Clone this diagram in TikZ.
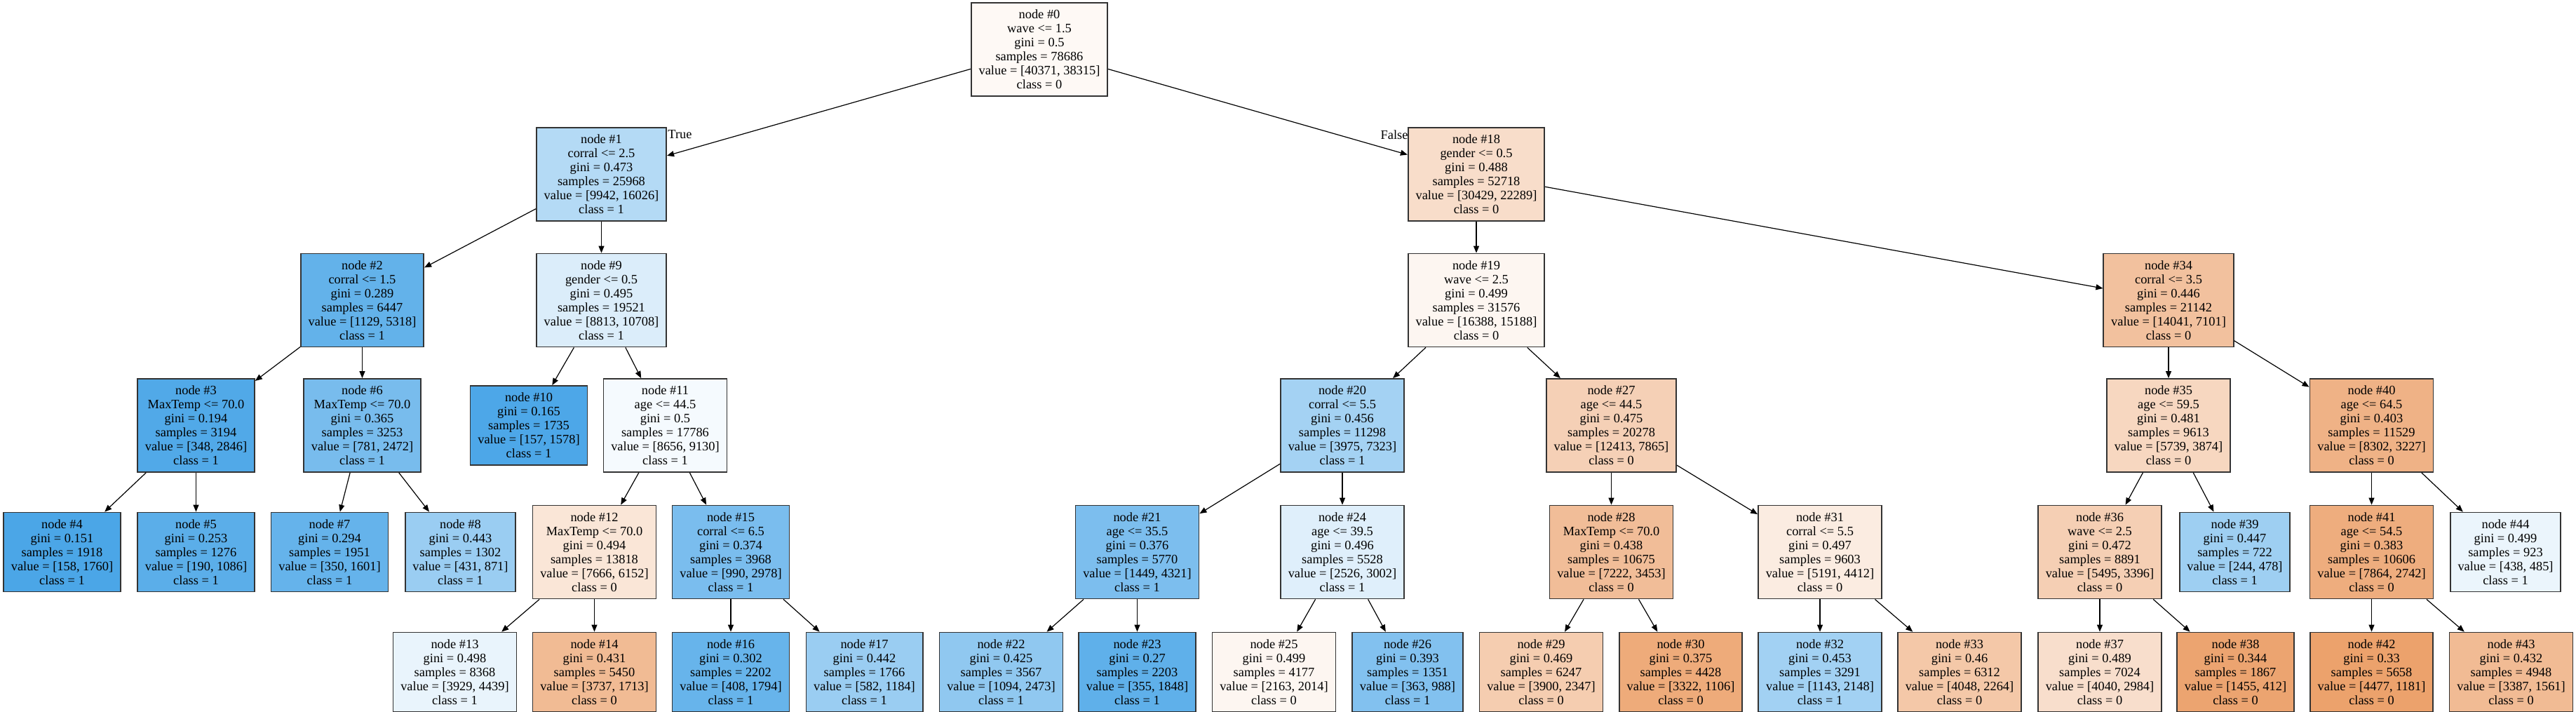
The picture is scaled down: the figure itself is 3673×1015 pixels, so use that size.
\documentclass[tikz,border=0pt]{standalone}
\usepackage{fontspec}
\setmainfont{Liberation Serif}
\usetikzlibrary{arrows.meta}
\definecolor{cls0}{RGB}{229,129,57}
\definecolor{cls1}{RGB}{57,157,229}

\begin{document}
\begin{tikzpicture}[
  x=0.5pt, y=-0.5pt,
  >={Triangle[length=5pt, width=4pt]},
  split/.style={rectangle, draw=black!80, line width=0.9pt, align=center, inner xsep=5.4pt, inner ysep=5pt, font=\fontsize{9.2}{10}\selectfont},
  edgelbl/.style={inner sep=0.5pt, font=\fontsize{9.2}{10}\selectfont},
  branch/.style={->, line width=0.6pt}
]
\useasboundingbox (0,0) rectangle (3673,1015);

% depth 0 and 1
\node[split, fill=cls0!5] (n0) at (1482,70.5) {node \#0\\wave <= 1.5\\gini = 0.5\\samples = 78686\\value = [40371, 38315]\\class = 0};
\node[split, fill=cls1!38] (n1) at (857.5,248.5) {node \#1\\corral <= 2.5\\gini = 0.473\\samples = 25968\\value = [9942, 16026]\\class = 1};
\node[split, fill=cls0!27] (n18) at (2105,248.5) {node \#18\\gender <= 0.5\\gini = 0.488\\samples = 52718\\value = [30429, 22289]\\class = 0};

% depth 2
\node[split, fill=cls1!79] (n2) at (516.5,428) {node \#2\\corral <= 1.5\\gini = 0.289\\samples = 6447\\value = [1129, 5318]\\class = 1};
\node[split, fill=cls1!18] (n9) at (857.5,428) {node \#9\\gender <= 0.5\\gini = 0.495\\samples = 19521\\value = [8813, 10708]\\class = 1};
\node[split, fill=cls0!7] (n19) at (2105,428) {node \#19\\wave <= 2.5\\gini = 0.499\\samples = 31576\\value = [16388, 15188]\\class = 0};
\node[split, fill=cls0!49] (n34) at (3092,428) {node \#34\\corral <= 3.5\\gini = 0.446\\samples = 21142\\value = [14041, 7101]\\class = 0};

% depth 3
\node[split, fill=cls1!88] (n3) at (279.5,606.5) {node \#3\\MaxTemp <= 70.0\\gini = 0.194\\samples = 3194\\value = [348, 2846]\\class = 1};
\node[split, fill=cls1!68] (n6) at (516.5,606.5) {node \#6\\MaxTemp <= 70.0\\gini = 0.365\\samples = 3253\\value = [781, 2472]\\class = 1};
\node[split, fill=cls1!90] (n10) at (754,606.5) {node \#10\\gini = 0.165\\samples = 1735\\value = [157, 1578]\\class = 1};
\node[split, fill=cls1!5] (n11) at (948.5,606.5) {node \#11\\age <= 44.5\\gini = 0.5\\samples = 17786\\value = [8656, 9130]\\class = 1};
\node[split, fill=cls1!46] (n20) at (1914,606.5) {node \#20\\corral <= 5.5\\gini = 0.456\\samples = 11298\\value = [3975, 7323]\\class = 1};
\node[split, fill=cls0!37] (n27) at (2297.5,606.5) {node \#27\\age <= 44.5\\gini = 0.475\\samples = 20278\\value = [12413, 7865]\\class = 0};
\node[split, fill=cls0!32] (n35) at (3092,606.5) {node \#35\\age <= 59.5\\gini = 0.481\\samples = 9613\\value = [5739, 3874]\\class = 0};
\node[split, fill=cls0!61] (n40) at (3381.5,606.5) {node \#40\\age <= 64.5\\gini = 0.403\\samples = 11529\\value = [8302, 3227]\\class = 0};

% depth 4
\node[split, fill=cls1!91] (n4) at (88.5,787) {node \#4\\gini = 0.151\\samples = 1918\\value = [158, 1760]\\class = 1};
\node[split, fill=cls1!83] (n5) at (279.5,787) {node \#5\\gini = 0.253\\samples = 1276\\value = [190, 1086]\\class = 1};
\node[split, fill=cls1!78] (n7) at (470,787) {node \#7\\gini = 0.294\\samples = 1951\\value = [350, 1601]\\class = 1};
\node[split, fill=cls1!51] (n8) at (656.5,787) {node \#8\\gini = 0.443\\samples = 1302\\value = [431, 871]\\class = 1};
\node[split, fill=cls0!20] (n12) at (847.5,787) {node \#12\\MaxTemp <= 70.0\\gini = 0.494\\samples = 13818\\value = [7666, 6152]\\class = 0};
\node[split, fill=cls1!67] (n15) at (1042,787) {node \#15\\corral <= 6.5\\gini = 0.374\\samples = 3968\\value = [990, 2978]\\class = 1};
\node[split, fill=cls1!66] (n21) at (1621.5,787) {node \#21\\age <= 35.5\\gini = 0.376\\samples = 5770\\value = [1449, 4321]\\class = 1};
\node[split, fill=cls1!16] (n24) at (1914,787) {node \#24\\age <= 39.5\\gini = 0.496\\samples = 5528\\value = [2526, 3002]\\class = 1};
\node[split, fill=cls0!52] (n28) at (2297.5,787) {node \#28\\MaxTemp <= 70.0\\gini = 0.438\\samples = 10675\\value = [7222, 3453]\\class = 0};
\node[split, fill=cls0!15] (n31) at (2595,787) {node \#31\\corral <= 5.5\\gini = 0.497\\samples = 9603\\value = [5191, 4412]\\class = 0};
\node[split, fill=cls0!38] (n36) at (2994,787) {node \#36\\wave <= 2.5\\gini = 0.472\\samples = 8891\\value = [5495, 3396]\\class = 0};
\node[split, fill=cls1!49] (n39) at (3186.5,787) {node \#39\\gini = 0.447\\samples = 722\\value = [244, 478]\\class = 1};
\node[split, fill=cls0!65] (n41) at (3381.5,787) {node \#41\\age <= 54.5\\gini = 0.383\\samples = 10606\\value = [7864, 2742]\\class = 0};
\node[split, fill=cls1!10] (n44) at (3572.5,787) {node \#44\\gini = 0.499\\samples = 923\\value = [438, 485]\\class = 1};

% depth 5
\node[split, fill=cls1!11] (n13) at (648.5,958) {node \#13\\gini = 0.498\\samples = 8368\\value = [3929, 4439]\\class = 1};
\node[split, fill=cls0!54] (n14) at (847.5,958) {node \#14\\gini = 0.431\\samples = 5450\\value = [3737, 1713]\\class = 0};
\node[split, fill=cls1!77] (n16) at (1042,958) {node \#16\\gini = 0.302\\samples = 2202\\value = [408, 1794]\\class = 1};
\node[split, fill=cls1!51] (n17) at (1232.5,958) {node \#17\\gini = 0.442\\samples = 1766\\value = [582, 1184]\\class = 1};
\node[split, fill=cls1!56] (n22) at (1427.5,958) {node \#22\\gini = 0.425\\samples = 3567\\value = [1094, 2473]\\class = 1};
\node[split, fill=cls1!81] (n23) at (1621.5,958) {node \#23\\gini = 0.27\\samples = 2203\\value = [355, 1848]\\class = 1};
\node[split, fill=cls0!7] (n25) at (1816.5,958) {node \#25\\gini = 0.499\\samples = 4177\\value = [2163, 2014]\\class = 0};
\node[split, fill=cls1!63] (n26) at (2007,958) {node \#26\\gini = 0.393\\samples = 1351\\value = [363, 988]\\class = 1};
\node[split, fill=cls0!40] (n29) at (2197.5,958) {node \#29\\gini = 0.469\\samples = 6247\\value = [3900, 2347]\\class = 0};
\node[split, fill=cls0!67] (n30) at (2396.5,958) {node \#30\\gini = 0.375\\samples = 4428\\value = [3322, 1106]\\class = 0};
\node[split, fill=cls1!47] (n32) at (2595,958) {node \#32\\gini = 0.453\\samples = 3291\\value = [1143, 2148]\\class = 1};
\node[split, fill=cls0!44] (n33) at (2794,958) {node \#33\\gini = 0.46\\samples = 6312\\value = [4048, 2264]\\class = 0};
\node[split, fill=cls0!26] (n37) at (2994,958) {node \#37\\gini = 0.489\\samples = 7024\\value = [4040, 2984]\\class = 0};
\node[split, fill=cls0!72] (n38) at (3187.5,958) {node \#38\\gini = 0.344\\samples = 1867\\value = [1455, 412]\\class = 0};
\node[split, fill=cls0!74] (n42) at (3381.5,958) {node \#42\\gini = 0.33\\samples = 5658\\value = [4477, 1181]\\class = 0};
\node[split, fill=cls0!54] (n43) at (3580.5,958) {node \#43\\gini = 0.432\\samples = 4948\\value = [3387, 1561]\\class = 0};

% root branch labels
\node[edgelbl, anchor=north west, yshift=-1.5pt] (ltrue) at (n1.north east) {True};
\node[edgelbl, anchor=north east, xshift=1pt, yshift=-1.5pt] (lfalse) at (n18.north west) {False};

% edges
\draw[branch] (n0) -- (n1);
\draw[branch] (n0) -- (n18);
\draw[branch] (n1) -- (n2);
\draw[branch] (n1) -- (n9);
\draw[branch] (n2) -- (n3);
\draw[branch] (n2) -- (n6);
\draw[branch] (n3) -- (n4);
\draw[branch] (n3) -- (n5);
\draw[branch] (n6) -- (n7);
\draw[branch] (n6) -- (n8);
\draw[branch] (n9) -- (n10);
\draw[branch] (n9) -- (n11);
\draw[branch] (n11) -- (n12);
\draw[branch] (n11) -- (n15);
\draw[branch] (n12) -- (n13);
\draw[branch] (n12) -- (n14);
\draw[branch] (n15) -- (n16);
\draw[branch] (n15) -- (n17);
\draw[branch] (n18) -- (n19);
\draw[branch] (n18) -- (n34);
\draw[branch] (n19) -- (n20);
\draw[branch] (n19) -- (n27);
\draw[branch] (n20) -- (n21);
\draw[branch] (n20) -- (n24);
\draw[branch] (n21) -- (n22);
\draw[branch] (n21) -- (n23);
\draw[branch] (n24) -- (n25);
\draw[branch] (n24) -- (n26);
\draw[branch] (n27) -- (n28);
\draw[branch] (n27) -- (n31);
\draw[branch] (n28) -- (n29);
\draw[branch] (n28) -- (n30);
\draw[branch] (n31) -- (n32);
\draw[branch] (n31) -- (n33);
\draw[branch] (n34) -- (n35);
\draw[branch] (n34) -- (n40);
\draw[branch] (n35) -- (n36);
\draw[branch] (n35) -- (n39);
\draw[branch] (n36) -- (n37);
\draw[branch] (n36) -- (n38);
\draw[branch] (n40) -- (n41);
\draw[branch] (n40) -- (n44);
\draw[branch] (n41) -- (n42);
\draw[branch] (n41) -- (n43);
\end{tikzpicture}
\end{document}
